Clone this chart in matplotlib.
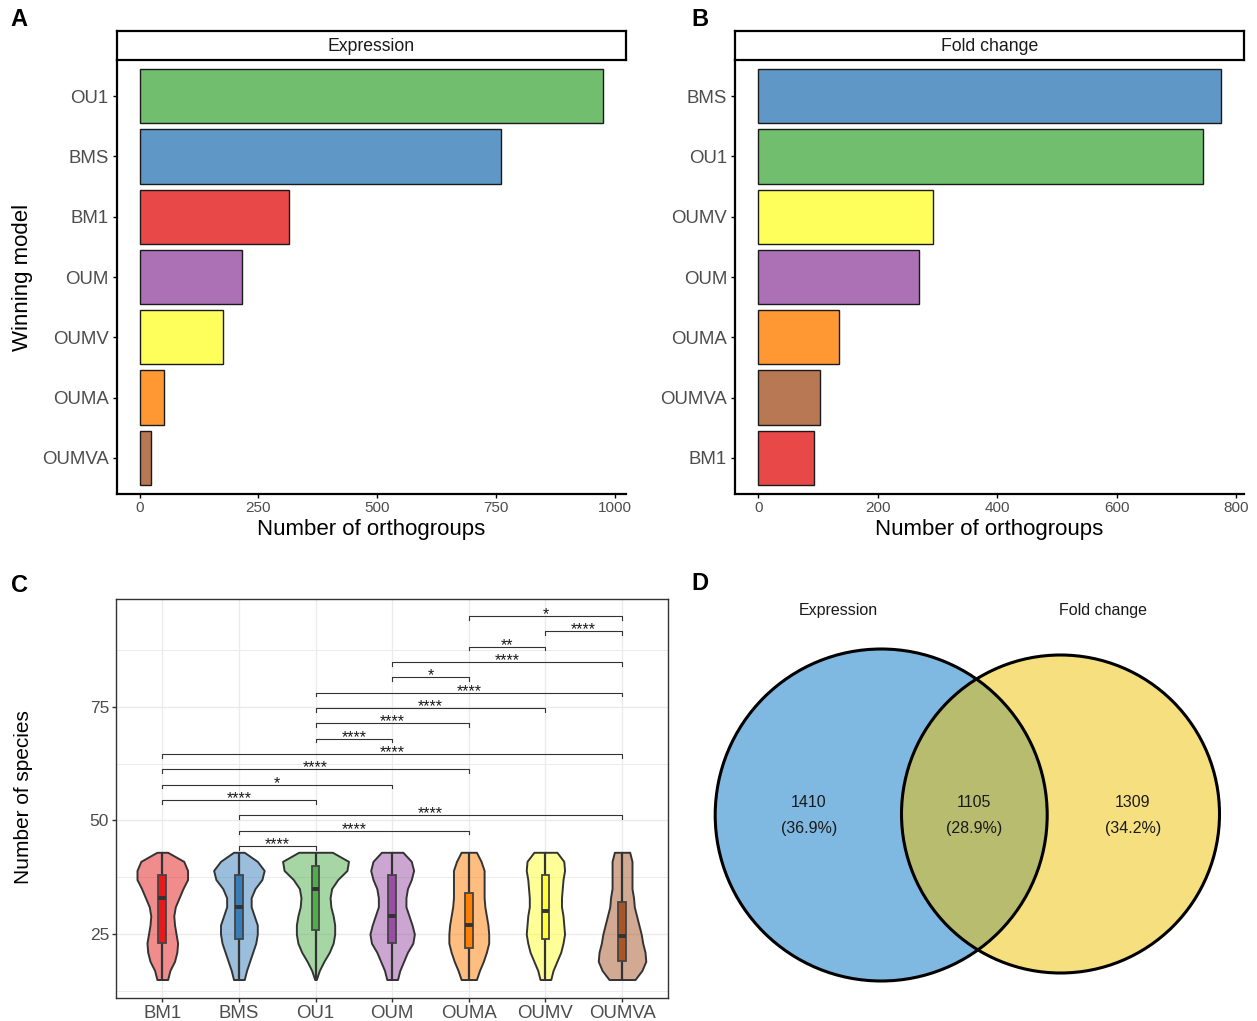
import matplotlib
matplotlib.use("Agg")
import matplotlib.pyplot as plt
import numpy as np
from matplotlib.colors import to_rgba
from matplotlib.patches import Circle, Rectangle

plt.rcParams['font.family'] = ['Liberation Sans', 'DejaVu Sans']

# ---------------- data ----------------
model_order = ["BM1", "BMS", "OU1", "OUM", "OUMA", "OUMV", "OUMVA"]
model_colors = ["#E41A1C", "#377EB8", "#4DAF4A", "#984EA3", "#FF7F00", "#FFFF33", "#A65628"]

expr_models = ["OU1", "BMS", "BM1", "OUM", "OUMV", "OUMA", "OUMVA"]
expr_counts = [975, 760, 314, 215, 176, 51, 24]

fc_models = ["BMS", "OU1", "OUMV", "OUM", "OUMA", "OUMVA", "BM1"]
fc_counts = [774, 744, 293, 269, 136, 104, 94]

expr_ticks = [0, 250, 500, 750, 1000]
fc_ticks = [0, 200, 400, 600, 800]

# violin outlines: half-width (category units) at each number of species
violin_levels = [43, 41, 39, 37, 35, 33, 31, 29, 27, 25, 23, 21, 19, 17, 15]
violin_bm1 = [0.07, 0.28, 0.33, 0.33, 0.27, 0.22, 0.17, 0.15, 0.16, 0.18, 0.20, 0.19, 0.16, 0.10, 0.07]
violin_bms = [0.07, 0.24, 0.33, 0.30, 0.21, 0.16, 0.16, 0.20, 0.24, 0.24, 0.22, 0.18, 0.14, 0.10, 0.07]
violin_ou1 = [0.22, 0.43, 0.41, 0.29, 0.21, 0.19, 0.20, 0.23, 0.25, 0.25, 0.23, 0.18, 0.11, 0.05, 0.01]
violin_oum = [0.14, 0.25, 0.28, 0.25, 0.20, 0.18, 0.18, 0.22, 0.26, 0.29, 0.27, 0.20, 0.15, 0.10, 0.07]
violin_ouma = [0.10, 0.16, 0.20, 0.20, 0.20, 0.20, 0.21, 0.23, 0.25, 0.26, 0.26, 0.23, 0.19, 0.14, 0.10]
violin_oumv = [0.15, 0.24, 0.25, 0.23, 0.22, 0.21, 0.21, 0.23, 0.24, 0.25, 0.23, 0.20, 0.15, 0.10, 0.07]
violin_oumva = [0.10, 0.13, 0.13, 0.13, 0.13, 0.15, 0.16, 0.19, 0.22, 0.25, 0.27, 0.30, 0.31, 0.26, 0.17]
violins = [violin_bm1, violin_bms, violin_ou1, violin_oum, violin_ouma, violin_oumv, violin_oumva]

species_min = [15, 15, 15, 15, 15, 15, 15]
species_q1 = [23, 24, 26, 23, 22, 24, 19]
species_median = [33, 31, 35, 29, 27, 30, 24.5]
species_q3 = [38, 38, 40, 38, 34, 38, 32]
species_max = [43, 43, 43, 43, 43, 43, 43]
species_ticks = [25, 50, 75]

# pairwise comparisons, drawn from bottom to top
comparisons = [
    ("BMS", "OU1", "****"), ("BMS", "OUMA", "****"), ("BMS", "OUMVA", "****"),
    ("BM1", "OU1", "****"), ("BM1", "OUM", "*"), ("BM1", "OUMA", "****"),
    ("BM1", "OUMVA", "****"), ("OU1", "OUM", "****"), ("OU1", "OUMA", "****"),
    ("OU1", "OUMV", "****"), ("OU1", "OUMVA", "****"), ("OUM", "OUMA", "*"),
    ("OUM", "OUMVA", "****"), ("OUMA", "OUMV", "**"), ("OUMV", "OUMVA", "****"),
    ("OUMA", "OUMVA", "*"),
]

venn_sets = ["Expression", "Fold change"]
venn_only_expr = 1410
venn_shared = 1105
venn_only_fc = 1309

# ---------------- figure ----------------
W, H = 1257, 1021
fig = plt.figure(figsize=(W / 100, H / 100), dpi=100)


def px_axes(left, top, right, bottom):
    return fig.add_axes([left / W, 1 - bottom / H, (right - left) / W, (bottom - top) / H])


color_of = dict(zip(model_order, model_colors))
TICK_GREY = "#4D4D4D"


def bar_panel(left, right, models, counts, ticks, strip_label):
    ax = px_axes(left, 60, right, 494)
    n = len(models)
    ypos = np.arange(n)
    ax.barh(ypos, counts, height=0.9,
            color=[to_rgba(color_of[m], 0.8) for m in models],
            edgecolor="#1a1a1a", linewidth=1.0, zorder=2)
    top = max(counts)
    ax.set_xlim(-0.05 * top, 1.05 * top)
    ax.set_ylim(n - 0.4, -0.6)
    ax.set_yticks(ypos)
    ax.set_yticklabels(models)
    ax.set_xticks(ticks)
    ax.set_xticklabels([str(t) for t in ticks])
    for s in ["top", "right"]:
        ax.spines[s].set_visible(False)
    for s in ["left", "bottom"]:
        ax.spines[s].set_linewidth(1.6)
        ax.spines[s].set_color("black")
    ax.tick_params(axis="y", labelsize=13.4, labelcolor=TICK_GREY, length=3.2, width=1.0, pad=2.5)
    ax.tick_params(axis="x", labelsize=11, labelcolor=TICK_GREY, length=3.2, width=1.0, pad=2)
    ax.set_xlabel("Number of orthogroups", fontsize=16)
    ax.xaxis.set_label_coords(0.5, (494 - 529) / 434)
    ax.xaxis.label.set_va("center")

    strip = px_axes(left, 31, right, 60)
    strip.set_xticks([])
    strip.set_yticks([])
    for s in strip.spines.values():
        s.set_linewidth(1.6)
        s.set_color("black")
    strip.text(0.5, 0.45, strip_label, ha="center", va="center", fontsize=12.7, color="#1A1A1A")
    return ax


axA = bar_panel(116.5, 626, expr_models, expr_counts, expr_ticks, "Expression")
axA.set_ylabel("Winning model", fontsize=16)
axA.yaxis.set_label_coords((23 - 116.5) / 509.5, 0.5)
axA.yaxis.label.set_va("center")

axB = bar_panel(735, 1244, fc_models, fc_counts, fc_ticks, "Fold change")

# ---------------- panel C: violins ----------------
axC = px_axes(116.3, 598.7, 668, 997.7)
axC.set_xlim(0.4, len(model_order) + 0.6)
axC.set_ylim(11.0, 98.8)
axC.set_xticks(np.arange(1, len(model_order) + 1))
axC.set_xticklabels(model_order)
axC.set_yticks(species_ticks)
axC.set_yticks([12.5, 37.5, 62.5, 87.5], minor=True)
axC.grid(which="major", color="#EBEBEB", linewidth=1.0, zorder=0)
axC.grid(which="minor", axis="y", color="#EBEBEB", linewidth=0.7, zorder=0)
axC.set_axisbelow(True)
for s in axC.spines.values():
    s.set_color("#333333")
    s.set_linewidth(1.0)
axC.tick_params(axis="x", which="major", labelsize=13.4, labelcolor=TICK_GREY, color="#333333",
                length=3.2, width=1.0, pad=2)
axC.tick_params(axis="y", which="major", labelsize=12.5, labelcolor=TICK_GREY, color="#333333",
                length=3.2, width=1.0, pad=2)
axC.tick_params(axis="y", which="minor", length=0)
axC.set_ylabel("Number of species", fontsize=15)
axC.yaxis.set_label_coords((23.5 - 116.3) / 551.7, 0.502)
axC.yaxis.label.set_va("center")

levels = np.array(violin_levels, dtype=float)
box_half = 0.05
for i, m in enumerate(model_order):
    x = i + 1
    c = model_colors[i]
    hw = np.array(violins[i])
    axC.fill_betweenx(levels, x - hw, x + hw, facecolor=to_rgba(c, 0.5),
                      edgecolor="#333333", linewidth=1.4, zorder=2)
    axC.plot([x, x], [species_min[i], species_q1[i]], color="#333333", lw=1.6, zorder=3,
             solid_capstyle="butt")
    axC.plot([x, x], [species_q3[i], species_max[i]], color="#333333", lw=1.6, zorder=3,
             solid_capstyle="butt")
    axC.add_patch(Rectangle((x - box_half, species_q1[i]), 2 * box_half,
                            species_q3[i] - species_q1[i], facecolor=c,
                            edgecolor="#444444", linewidth=1.3, zorder=4))
    axC.plot([x - box_half, x + box_half], [species_median[i]] * 2, color="#333333",
             lw=2.8, solid_capstyle="butt", zorder=5)

pos = {m: i + 1 for i, m in enumerate(model_order)}
bracket_base, bracket_step, bracket_tip = 44.4, 3.375, 0.85
for k, (g1, g2, lab) in enumerate(comparisons):
    yb = bracket_base + k * bracket_step
    x1, x2 = pos[g1], pos[g2]
    axC.plot([x1, x1, x2, x2], [yb - bracket_tip, yb, yb, yb - bracket_tip],
             color="#333333", lw=0.8, zorder=3)
    axC.text((x1 + x2) / 2, yb - 0.7, lab, ha="center", va="baseline", fontsize=11.5,
             color="#1A1A1A", zorder=6)

# ---------------- panel D: Venn ----------------
axD = px_axes(690, 570, W, H)
axD.set_xlim(690, W)
axD.set_ylim(H, 570)
axD.axis("off")

left_c, left_r = (881.2, 815.0), 166.0
right_c, right_r = (1060.5, 814.0), 159.0
axD.add_patch(Circle(left_c, left_r, facecolor=to_rgba("#0073C2", 0.5), edgecolor="none", zorder=1))
axD.add_patch(Circle(right_c, right_r, facecolor=to_rgba("#EFC000", 0.5), edgecolor="none", zorder=2))
axD.add_patch(Circle(left_c, left_r, facecolor="none", edgecolor="black", linewidth=2.2, zorder=3))
axD.add_patch(Circle(right_c, right_r, facecolor="none", edgecolor="black", linewidth=2.2, zorder=3))

total = venn_only_expr + venn_shared + venn_only_fc
axD.text(838, 610, venn_sets[0], ha="center", va="center", fontsize=11.5, color="#1A1A1A")
axD.text(1103, 610, venn_sets[1], ha="center", va="center", fontsize=11.5, color="#1A1A1A")
for xc, val in [(809, venn_only_expr), (974, venn_shared), (1133, venn_only_fc)]:
    axD.text(xc, 802.5, f"{val}", ha="center", va="center", fontsize=11.5, color="#1A1A1A", zorder=4)
    axD.text(xc, 828, f"({100 * val / total:.1f}%)", ha="center", va="center", fontsize=11.5,
             color="#1A1A1A", zorder=4)

# panel letters
for lab, xp, yp in [("A", 19, 19), ("B", 700, 19), ("C", 19, 585), ("D", 700, 583)]:
    fig.text(xp / W, 1 - yp / H, lab, ha="center", va="center", fontsize=17, fontweight="bold")

fig.savefig("out.png", dpi=100)
